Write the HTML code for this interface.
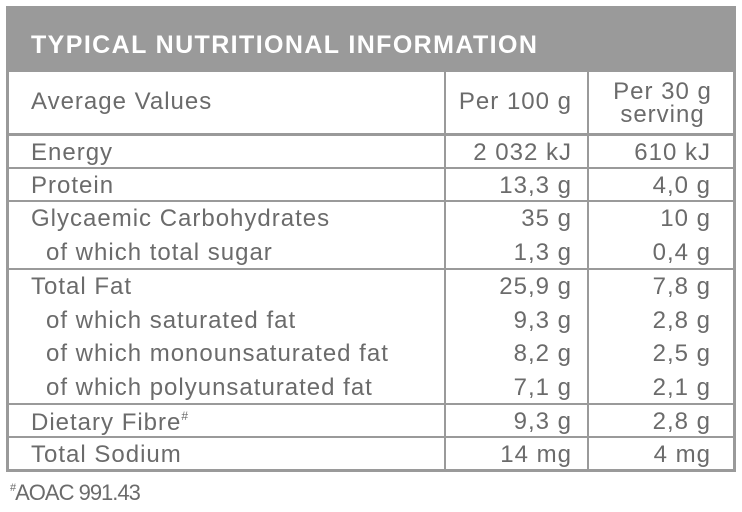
<!DOCTYPE html>
<html><head><style>
body{margin:0;width:742px;height:512px;background:#fff;position:relative;font-family:"Liberation Sans",sans-serif;color:#6b6b6b;overflow:hidden}
.a{position:absolute}
.h{background:#9a9a9a}
.t{position:absolute;font-size:24px;letter-spacing:1px;white-space:nowrap;line-height:1}
.r{text-align:right}
</style></head><body>
<div class="a h" style="left:6px;top:6px;width:730px;height:66px"></div>
<div class="t" style="left:31px;top:33px;color:#fff;font-weight:bold;font-size:25px;letter-spacing:1.4px">TYPICAL NUTRITIONAL INFORMATION</div>
<div class="a h" style="left:6px;top:72px;width:3px;height:400px"></div>
<div class="a h" style="left:733px;top:72px;width:3px;height:400px"></div>
<div class="a h" style="left:6px;top:469px;width:730px;height:3px"></div>
<div class="a h" style="left:444px;top:72px;width:2px;height:398px"></div>
<div class="a h" style="left:587px;top:72px;width:2px;height:398px"></div>
<div class="a h" style="left:6px;top:133px;width:730px;height:3px"></div>
<div class="a h" style="left:6px;top:167px;width:730px;height:2px"></div>
<div class="a h" style="left:6px;top:200px;width:730px;height:2px"></div>
<div class="a h" style="left:6px;top:268px;width:730px;height:2px"></div>
<div class="a h" style="left:6px;top:403px;width:730px;height:2px"></div>
<div class="a h" style="left:6px;top:436px;width:730px;height:2px"></div>

<div class="t" style="left:31px;top:90px">Average Values</div>
<div class="t r" style="right:170px;top:90px">Per 100 g</div>
<div class="t" style="left:589px;width:147px;text-align:center;top:80px;line-height:23px">Per 30 g<br>serving</div>

<div class="t" style="left:31px;top:141px">Energy</div>
<div class="t r" style="right:170px;top:141px">2 032 kJ</div>
<div class="t r" style="right:31px;top:141px">610 kJ</div>

<div class="t" style="left:31px;top:174px">Protein</div>
<div class="t r" style="right:170px;top:174px">13,3 g</div>
<div class="t r" style="right:31px;top:174px">4,0 g</div>

<div class="t" style="left:31px;top:207px">Glycaemic Carbohydrates</div>
<div class="t r" style="right:170px;top:207px">35 g</div>
<div class="t r" style="right:31px;top:207px">10 g</div>

<div class="t" style="left:46px;top:241px">of which total sugar</div>
<div class="t r" style="right:170px;top:241px">1,3 g</div>
<div class="t r" style="right:31px;top:241px">0,4 g</div>

<div class="t" style="left:31px;top:275px">Total Fat</div>
<div class="t r" style="right:170px;top:275px">25,9 g</div>
<div class="t r" style="right:31px;top:275px">7,8 g</div>

<div class="t" style="left:46px;top:309px">of which saturated fat</div>
<div class="t r" style="right:170px;top:309px">9,3 g</div>
<div class="t r" style="right:31px;top:309px">2,8 g</div>

<div class="t" style="left:46px;top:342px">of which monounsaturated fat</div>
<div class="t r" style="right:170px;top:342px">8,2 g</div>
<div class="t r" style="right:31px;top:342px">2,5 g</div>

<div class="t" style="left:46px;top:376px">of which polyunsaturated fat</div>
<div class="t r" style="right:170px;top:376px">7,1 g</div>
<div class="t r" style="right:31px;top:376px">2,1 g</div>

<div class="t" style="left:31px;top:410px">Dietary Fibre<sup style="font-size:12px;vertical-align:10px">#</sup></div>
<div class="t r" style="right:170px;top:410px">9,3 g</div>
<div class="t r" style="right:31px;top:410px">2,8 g</div>

<div class="t" style="left:31px;top:443px">Total Sodium</div>
<div class="t r" style="right:170px;top:443px">14 mg</div>
<div class="t r" style="right:31px;top:443px">4 mg</div>

<div class="t" style="left:10px;top:482px;font-size:22px;letter-spacing:-1px"><sup style="font-size:11px;vertical-align:9px">#</sup>AOAC 991.43</div>
</body></html>
